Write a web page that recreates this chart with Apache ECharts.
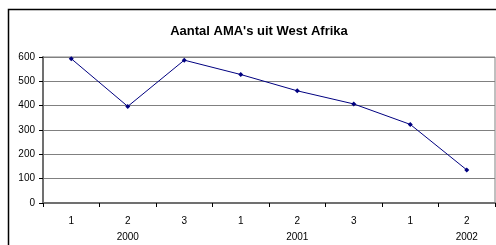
<!DOCTYPE html>
<html>
<head>
<meta charset="utf-8">
<script src="https://cdn.jsdelivr.net/npm/echarts@6/dist/echarts.min.js"></script>
<style>
  html, body { margin: 0; padding: 0; background: #fff; }
  #chart { width: 496px; height: 245px; }
</style>
</head>
<body>
<div id="chart"></div>
<script>
// data
const periods = ['1', '2', '3', '1', '2', '3', '1', '2']
const years = ['', '2000', '', '', '2001', '', '', '2002']
const ama = [593, 397, 587, 528, 461, 407, 323, 136]

const chart = echarts.init(document.getElementById('chart'))

const option = {
  animation: false,
  textStyle: { fontFamily: 'Liberation Sans, Arial, sans-serif' },
  title: {
    text: "Aantal AMA's uit West Afrika",
    left: 254,
    top: 20,
    textAlign: 'center',
    textStyle: { fontSize: 13, fontWeight: 'bold', color: '#000' }
  },
  graphic: [{
    type: 'rect',
    shape: { x: 8.5, y: 9.5, width: 500, height: 250 },
    style: { fill: 'none', stroke: '#000', lineWidth: 1.5 },
    silent: true
  }],
  grid: {
    left: 43,
    right: 1,
    top: 57,
    bottom: 39,
    show: true,
    borderColor: '#808080',
    borderWidth: 1
  },
  xAxis: {
    type: 'category',
    data: periods,
    boundaryGap: true,
    axisLine: { lineStyle: { color: '#707070', width: 2 } },
    axisTick: { show: true, length: 4, alignWithLabel: false, lineStyle: { color: '#000' } },
    axisLabel: {
      color: '#000',
      fontSize: 10,
      margin: 10,
      lineHeight: 16,
      interval: 0,
      formatter: (val, idx) => val + '\n' + (years[idx] || ' ')
    }
  },
  yAxis: {
    type: 'value',
    min: 0,
    max: 600,
    interval: 100,
    axisLine: { show: true, lineStyle: { color: '#707070', width: 2 } },
    axisTick: { show: true, length: 4, lineStyle: { color: '#000' } },
    axisLabel: { color: '#000', fontSize: 10, margin: 8 },
    splitLine: { lineStyle: { color: '#808080', width: 1 } }
  },
  series: [{
    type: 'line',
    data: ama,
    symbol: 'diamond',
    symbolSize: 5,
    lineStyle: { color: '#000080', width: 1 },
    itemStyle: { color: '#000080' }
  }]
}

chart.setOption(option)
</script>
</body>
</html>
